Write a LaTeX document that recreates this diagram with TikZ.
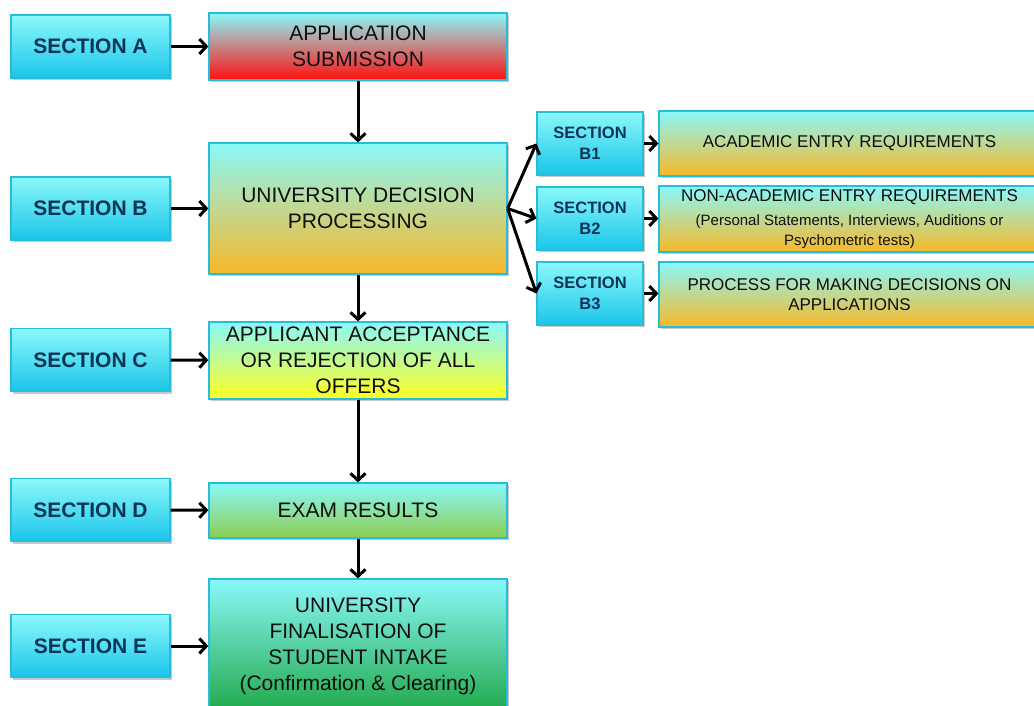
\documentclass[tikz,border=0pt]{standalone}
\usepackage{fontspec}
\setmainfont{Liberation Sans}
\usetikzlibrary{arrows.meta,shadows}
\definecolor{cyantop}{RGB}{138,248,250}
\definecolor{cyanbot}{RGB}{27,197,234}
\definecolor{cyanedge}{RGB}{40,188,216}
\definecolor{secttext}{RGB}{10,52,86}
\definecolor{redbot}{RGB}{255,16,16}
\definecolor{orangebot}{RGB}{248,184,40}
\definecolor{yellowbot}{RGB}{255,255,32}
\definecolor{lgreenbot}{RGB}{140,204,80}
\definecolor{dgreenbot}{RGB}{32,168,72}
\definecolor{maintext}{RGB}{15,15,15}
\tikzset{
  shad/.style={drop shadow={shadow xshift=2pt,shadow yshift=-2pt,opacity=0.35,fill=black!60}},
  sectbox/.style={shad,rectangle,draw=cyanedge,line width=1.2pt,top color=cyantop,bottom color=cyanbot,
    text=secttext,font=\fontsize{21}{25}\selectfont\bfseries,align=center,inner sep=0pt,
    minimum width=159pt,minimum height=63pt},
  subbox/.style={sectbox,font=\fontsize{16.5}{21}\selectfont\bfseries,minimum width=106pt},
  mainbox/.style={shad,rectangle,draw=cyanedge,line width=1.2pt,top color=cyantop,
    text=maintext,font=\fontsize{21}{26}\selectfont,align=center,inner sep=0pt,minimum width=298pt},
  rightbox/.style={mainbox,bottom color=orangebot,font=\fontsize{17}{20}\selectfont,minimum width=381pt},
  arr/.style={line width=3pt,-{Straight Barb[length=7pt,width=15pt,line width=3pt]}},
}
\begin{document}
\begin{tikzpicture}[x=1pt,y=-1pt]
\clip (0,0) rectangle (1034,706);
\fill[white] (0,0) rectangle (1034,706);
% left section boxes
\node[sectbox] (sa) at (90.5,46.5) {SECTION A};
\node[sectbox] (sb) at (90.5,208.5) {SECTION B};
\node[sectbox] (sc) at (90.5,360) {SECTION C};
\node[sectbox] (sd) at (90.5,510) {SECTION D};
\node[sectbox] (se) at (90.5,646) {SECTION E};
% main boxes
\node[mainbox,bottom color=redbot,minimum height=67pt] (ma) at (358,46.5) {APPLICATION\\SUBMISSION};
\node[mainbox,bottom color=orangebot,minimum height=131pt] (mb) at (358,208.5) {UNIVERSITY DECISION\\PROCESSING};
\node[mainbox,bottom color=yellowbot,minimum height=77pt] (mc) at (358,360.5) {APPLICANT ACCEPTANCE\\OR REJECTION OF ALL\\OFFERS};
\node[mainbox,bottom color=lgreenbot,minimum height=55pt] (md) at (358,510.5) {EXAM RESULTS};
\node[mainbox,bottom color=dgreenbot,minimum height=134pt] (me) at (358,646) {UNIVERSITY\\FINALISATION OF\\STUDENT INTAKE\\(Confirmation \& Clearing)};
% sub section boxes
\node[subbox] (b1) at (590,143.5) {SECTION\\B1};
\node[subbox] (b2) at (590,218.5) {SECTION\\B2};
\node[subbox] (b3) at (590,293.5) {SECTION\\B3};
% right boxes
\node[rightbox,minimum height=65pt] (r1) at (849.5,143.5) {ACADEMIC ENTRY REQUIREMENTS};
\node[rightbox,minimum height=66pt] (r2) at (849.5,219) {NON-ACADEMIC ENTRY REQUIREMENTS\\[4pt]{\fontsize{15}{17}\selectfont (Personal Statements, Interviews, Auditions or}\\{\fontsize{15}{17}\selectfont Psychometric tests)}};
\node[rightbox,minimum height=65pt] (r3) at (849.5,294.5) {PROCESS FOR MAKING DECISIONS ON\\APPLICATIONS};
% arrows
\draw[arr] (sa) -- (ma);
\draw[arr] (sb) -- (mb);
\draw[arr] (sc) -- (mc);
\draw[arr] (sd) -- (md);
\draw[arr] (se) -- (me);
\draw[arr] (ma) -- (mb);
\draw[arr] (mb) -- (mc);
\draw[arr] (mc) -- (md);
\draw[arr] (md) -- (me);
\coordinate (fan) at (mb.east);
\draw[arr] (fan) -- (b1.west);
\draw[arr] (fan) -- (b2.west);
\draw[arr] (fan) -- (b3.west);
\draw[arr] (b1) -- (r1.west |- b1);
\draw[arr] (b2) -- (r2.west |- b2);
\draw[arr] (b3) -- (r3.west |- b3);
\end{tikzpicture}
\end{document}
